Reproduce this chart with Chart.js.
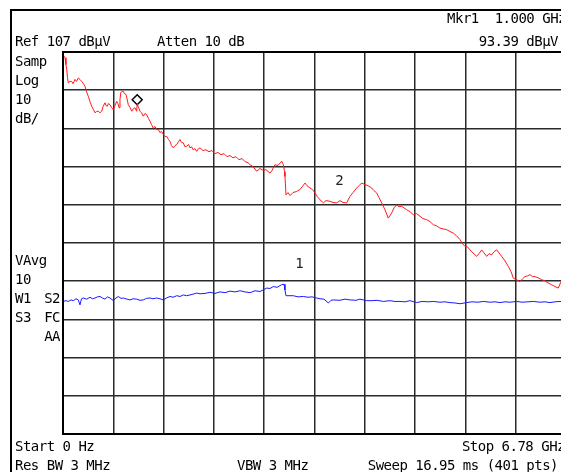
<!DOCTYPE html>
<html>
<head>
<meta charset="utf-8">
<title>Spectrum 0 - 6.78 GHz</title>
<script src="https://cdn.jsdelivr.net/npm/chart.js@4.4.1/dist/chart.umd.min.js"></script>
<style>
  html, body { margin: 0; padding: 0; background: #fff; overflow: hidden; }
  #spec { display: block; }
</style>
</head>
<body>
<canvas id="spec" width="580" height="472" style="width:580px;height:472px"></canvas>
<script>
// Analyzer settings
const refLevel = 107;      // dBuV, top of grid
const dbPerDiv = 10;
const numDivs = 10;
const startMHz = 0;
const stopMHz = 6780;

// Trace 2 (red, sample detector) - frequency in MHz, level in dBuV
const redFreq = [7, 27, 40, 50, 61, 71, 94, 117, 135, 162, 182, 206, 229, 252, 276, 297, 317, 341, 364, 387,
  411, 431, 452, 476, 499, 522, 539, 566, 580, 597, 613, 634, 654, 678, 701, 724, 741, 755, 768, 778,
  795, 813, 829, 849, 863, 880, 903, 926, 950, 970, 993, 1000, 1018, 1038, 1058, 1082, 1105, 1128, 1152, 1173,
  1193, 1217, 1240, 1263, 1285, 1307, 1328, 1352, 1375, 1398, 1422, 1442, 1462, 1487, 1510, 1533, 1557, 1577, 1597, 1622,
  1644, 1667, 1692, 1712, 1732, 1756, 1779, 1802, 1826, 1847, 1887, 1927, 1968, 2008, 2049, 2089, 2130, 2170, 2211, 2251,
  2291, 2332, 2372, 2413, 2453, 2494, 2521, 2561, 2611, 2655, 2700, 2736, 2790, 2817, 2857, 2898, 2948, 2970, 2986, 2992,
  3006, 3033, 3060, 3100, 3150, 3194, 3235, 3262, 3289, 3329, 3363, 3397, 3430, 3464, 3509, 3545, 3599, 3639, 3689, 3734,
  3774, 3824, 3868, 3909, 3959, 3990, 4026, 4071, 4111, 4161, 4192, 4228, 4259, 4296, 4340, 4385, 4431, 4462, 4498, 4529,
  4565, 4596, 4633, 4677, 4722, 4765, 4812, 4852, 4902, 4947, 4991, 5034, 5081, 5122, 5172, 5216, 5261, 5304, 5351, 5385,
  5419, 5452, 5486, 5526, 5576, 5607, 5644, 5675, 5711, 5742, 5778, 5809, 5846, 5877, 5913, 5958, 6002, 6039, 6070, 6113,
  6160, 6194, 6227, 6261, 6295, 6328, 6362, 6402, 6452, 6497, 6541, 6584, 6632, 6676, 6708, 6740, 6780];
const redLevel = [106.1, 105.5, 103.7, 102.4, 100.3, 98.9, 99.3, 99.3, 98.7, 99.8, 99.3, 100.2, 99.8, 99.3, 98.7, 98.0, 96.6, 95.4, 94.0, 92.8,
  91.9, 91.1, 91.4, 91.5, 91.1, 91.5, 92.7, 93.7, 93.0, 92.8, 93.5, 93.2, 92.5, 91.9, 93.0, 94.1, 93.5, 92.4, 94.5, 96.3,
  96.7, 96.7, 96.1, 95.9, 94.8, 93.2, 92.5, 91.5, 92.2, 92.4, 91.5, 93.39, 92.5, 91.5, 91.1, 90.2, 90.9, 90.6, 89.6, 88.9,
  88.0, 87.1, 87.5, 86.7, 86.7, 85.9, 86.2, 85.4, 84.9, 84.9, 84.1, 83.6, 82.5, 81.9, 82.5, 82.8, 83.5, 84.1, 83.3, 83.2,
  82.2, 82.3, 82.8, 81.9, 82.2, 81.4, 81.7, 81.0, 81.7, 81.9, 81.2, 81.4, 80.9, 81.2, 80.4, 80.7, 80.1, 80.4, 79.6, 79.9,
  79.3, 79.6, 78.8, 79.1, 78.3, 78.0, 77.5, 77.0, 75.8, 76.5, 76.0, 76.2, 75.3, 76.0, 77.5, 77.3, 78.4, 77.5, 75.7, 74.4,
  69.6, 70.2, 69.4, 70.2, 70.5, 71.0, 72.0, 72.7, 72.0, 71.4, 71.0, 70.1, 69.1, 68.3, 67.5, 68.1, 67.9, 67.6, 67.5, 68.1,
  67.6, 67.5, 69.2, 70.2, 71.4, 72.0, 72.7, 72.3, 72.0, 71.4, 70.7, 70.1, 68.9, 67.5, 65.7, 63.5, 64.9, 66.2, 67.0, 66.5,
  66.6, 66.2, 65.7, 65.2, 64.4, 64.7, 64.0, 63.4, 63.1, 62.6, 61.8, 61.5, 60.9, 60.7, 60.5, 60.0, 59.6, 58.9, 57.9, 56.8,
  56.1, 56.0, 55.2, 54.4, 53.5, 54.2, 55.2, 54.4, 53.5, 54.2, 53.9, 54.7, 55.2, 54.4, 53.5, 52.3, 50.9, 49.5, 47.8, 47.4,
  46.9, 47.6, 48.2, 48.4, 48.7, 48.2, 48.2, 47.9, 47.4, 47.1, 46.5, 46.1, 45.6, 45.2, 46.7, 46.0, 45.8];

// Trace 1 (blue, video average)
const blueFreq = [4, 40, 71, 108, 139, 175, 206, 229, 249, 274, 319, 364, 398, 431, 465, 499, 532, 566, 600, 634,
  678, 714, 745, 782, 813, 863, 903, 944, 993, 1038, 1082, 1125, 1173, 1213, 1263, 1307, 1352, 1395, 1442, 1483,
  1533, 1577, 1622, 1665, 1712, 1752, 1802, 1847, 1914, 1981, 2049, 2116, 2184, 2251, 2318, 2386, 2453, 2521, 2588, 2655,
  2696, 2746, 2790, 2835, 2885, 2948, 2979, 2992, 3006, 3060, 3104, 3168, 3239, 3302, 3356, 3420, 3464, 3518, 3576, 3612,
  3643, 3734, 3801, 3868, 3949, 4003, 4094, 4165, 4232, 4317, 4408, 4475, 4542, 4610, 4677, 4767, 4839, 4920, 4991, 5081,
  5149, 5216, 5284, 5351, 5441, 5513, 5594, 5665, 5756, 5823, 5890, 5958, 6025, 6115, 6187, 6268, 6339, 6430, 6497, 6564,
  6632, 6699, 6780];
const blueLevel = [41.7, 41.9, 41.7, 42.1, 41.9, 42.4, 42.1, 40.8, 42.4, 42.6, 42.3, 42.8, 42.4, 42.6, 42.9, 43.0, 42.6, 42.3, 42.9, 42.6,
  41.9, 42.6, 43.0, 42.5, 42.6, 42.3, 42.1, 42.4, 42.3, 42.0, 42.1, 42.5, 42.6, 42.4, 42.6, 42.4, 42.1, 42.6, 43.0, 42.8,
  43.2, 43.0, 43.4, 43.2, 43.4, 43.6, 43.9, 43.7, 43.8, 44.1, 43.8, 44.2, 44.0, 44.4, 44.2, 44.5, 44.2, 44.0, 44.5, 44.3,
  44.7, 45.2, 45.1, 45.6, 45.4, 46.1, 46.2, 44.7, 43.2, 43.2, 43.2, 42.9, 43.0, 42.8, 42.9, 42.6, 42.4, 42.3, 41.3, 42.0,
  42.1, 42.0, 42.3, 42.1, 42.0, 42.3, 41.9, 41.9, 42.0, 41.7, 41.9, 41.7, 41.7, 41.6, 41.9, 41.4, 41.7, 41.6, 41.7, 41.5,
  41.6, 41.4, 41.3, 41.1, 41.4, 41.6, 41.5, 41.7, 41.5, 41.6, 41.4, 41.6, 41.5, 41.7, 41.5, 41.6, 41.7, 41.5, 41.6, 41.4,
  41.6, 41.7, 41.6];

// Marker 1 diamond and the trace number labels
const markerFreq = [1000];
const markerLevel = [94.5];
const traceLabels = ['1', '2'];
const traceLabelFreq = [3185, 3724];
const traceLabelLevel = [51.3, 73.1];

const FONT = '14px "DejaVu Sans Mono", "Liberation Mono", monospace';

function toPoints(xs, ys) {
    return xs.map((x, i) => ({ x: x, y: ys[i] }));
}

// Screen annotations around the graticule
const screenText = {
    id: 'screenText',
    beforeDraw(chart) {
        const ctx = chart.ctx;
        ctx.save();
        ctx.fillStyle = '#fff';
        ctx.fillRect(0, 0, chart.width, chart.height);
        ctx.restore();
    },
    afterDraw(chart) {
        const ctx = chart.ctx;
        const area = chart.chartArea;
        const xs = chart.scales.x, ys = chart.scales.y;
        ctx.save();

        // graticule outline
        ctx.strokeStyle = '#000';
        ctx.lineWidth = 2;
        ctx.strokeRect(area.left, area.top, area.right - area.left, area.bottom - area.top);

        // outer screen frame
        ctx.strokeRect(11, 10, 620, 500);

        ctx.fillStyle = '#000';
        ctx.font = FONT;
        ctx.letterSpacing = '-0.5px';
        ctx.textBaseline = 'alphabetic';

        ctx.textAlign = 'left';
        ctx.fillText('Ref 107 dB\u03bcV', 15, 46);
        ctx.fillText('Atten 10 dB', 157, 46);
        ['Samp', 'Log', '10', 'dB/'].forEach((t, i) => ctx.fillText(t, 15, 66 + i * 19));
        ['VAvg', '10', 'W1', 'S3'].forEach((t, i) => ctx.fillText(t, 15, 265 + i * 19));
        ctx.fillText('Start 0 Hz', 15, 451);
        ctx.fillText('Res BW 3 MHz', 15, 470);
        ctx.fillText('VBW 3 MHz', 237, 470);

        ctx.textAlign = 'right';
        ['S2', 'FC', 'AA'].forEach((t, i) => ctx.fillText(t, 60, 303 + i * 19));
        ctx.fillText('Mkr1  1.000 GHz', 566, 23);
        ctx.fillText('93.39 dB\u03bcV', 558, 46);
        ctx.fillText('Stop 6.78 GHz', 565, 451);
        ctx.fillText('Sweep 16.95 ms (401 pts)', 558, 470);

        // trace numbers
        ctx.textAlign = 'center';
        ctx.textBaseline = 'middle';
        ctx.fillStyle = '#222';
        traceLabels.forEach((t, i) => {
            ctx.fillText(t, xs.getPixelForValue(traceLabelFreq[i]), ys.getPixelForValue(traceLabelLevel[i]));
        });
        ctx.restore();
    }
};

new Chart(document.getElementById('spec'), {
    type: 'line',
    data: {
        datasets: [
            {
                label: 'Trace 2',
                data: toPoints(redFreq, redLevel),
                borderColor: '#ff1a1a',
                borderWidth: 1,
                pointRadius: 0,
                tension: 0
            },
            {
                label: 'Trace 1',
                data: toPoints(blueFreq, blueLevel),
                borderColor: '#1a1aff',
                borderWidth: 1,
                pointRadius: 0,
                tension: 0
            },
            {
                label: 'Mkr1',
                data: toPoints(markerFreq, markerLevel),
                showLine: false,
                pointStyle: 'rectRot',
                pointRadius: 5,
                backgroundColor: '#fff',
                borderColor: '#000',
                borderWidth: 1.5
            }
        ]
    },
    options: {
        responsive: false,
        devicePixelRatio: 1,
        animation: false,
        events: [],
        layout: { padding: { left: 63, top: 52, right: 14, bottom: 38 } },
        plugins: { legend: { display: false }, tooltip: { enabled: false } },
        scales: {
            x: {
                type: 'linear',
                min: startMHz,
                max: stopMHz,
                ticks: { display: false, count: numDivs + 1 },
                grid: { color: '#2a2a2a', lineWidth: 1.5, drawTicks: false },
                border: { color: '#000', width: 2 }
            },
            y: {
                type: 'linear',
                min: refLevel - dbPerDiv * numDivs,
                max: refLevel,
                ticks: { display: false, count: numDivs + 1 },
                grid: { color: '#2a2a2a', lineWidth: 1.5, drawTicks: false },
                border: { color: '#000', width: 2 }
            }
        }
    },
    plugins: [screenText]
});
</script>
</body>
</html>
